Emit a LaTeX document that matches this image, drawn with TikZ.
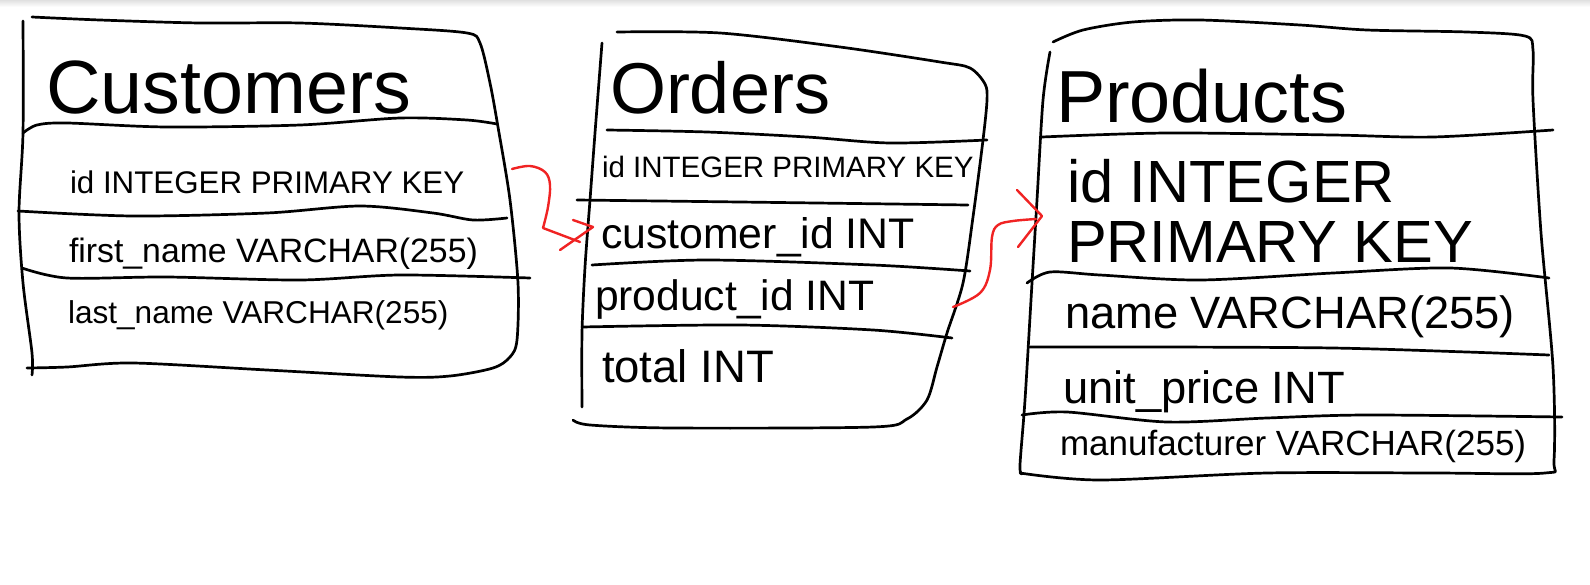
\documentclass[tikz,border=0pt]{standalone}
\usepackage{fontspec}
\setmainfont{Liberation Sans}
\definecolor{fkred}{RGB}{240,35,35}
\begin{document}
\begin{tikzpicture}[x=1pt,y=-1pt,
  sketch/.style={line width=2.7pt,line cap=round,line join=round,black},
  fk/.style={line width=2.4pt,line cap=round,line join=round,fkred},
  txt/.style={anchor=base west,inner sep=0pt,outer sep=0pt,text=black}]
\useasboundingbox (0,0) rectangle (1590,584);
\fill[white] (0,0) rectangle (1590,584);
\shade[top color=black!12,bottom color=white] (0,0) rectangle (1590,7);

% ---------- Customers ----------
\draw[sketch] plot[smooth] coordinates {(32,17) (100,20) (200,23) (300,23) (400,28) (467,33) (480,43) (490,83) (498,127) (510,200) (518,283) (517,340) (510,357) (493,368) (450,376) (400,377) (267,370) (133,363) (67,367) (27,368)};
\draw[sketch] plot[smooth] coordinates {(23,21) (23,133) (19,213) (23,283) (32,353) (32,375)};
\draw[sketch] plot[smooth] coordinates {(23,133) (37,125) (67,123) (167,127) (300,125) (400,118) (467,120) (497,124)};
\draw[sketch] plot[smooth] coordinates {(18,211) (133,216) (267,213) (360,206) (433,213) (473,220) (507,218)};
\draw[sketch] plot[smooth] coordinates {(22,268) (67,278) (167,277) (300,280) (400,275) (530,278)};
\node[txt,font=\fontsize{75.5}{80}\selectfont] (ctitle) at (46,113) {Customers};
\node[txt,font=\fontsize{31.3}{36}\selectfont] (cid) at (70,193) {id INTEGER PRIMARY KEY};
\node[txt,font=\fontsize{33.8}{38}\selectfont] (cfirst) at (69,262) {first\_name VARCHAR(255)};
\node[txt,font=\fontsize{31.6}{36}\selectfont] (clast) at (68,323) {last\_name VARCHAR(255)};

% ---------- Orders ----------
\draw[sketch] plot[smooth] coordinates {(617,32) (720,33) (840,47) (940,62) (970,68) (985,84) (987,100) (983,140) (973,217) (963,283) (947,333) (937,367) (927,400) (907,419) (873,427) (673,428) (590,425) (573,420)};
\draw[sketch] plot[smooth] coordinates {(602,43) (595,133) (590,200) (585,267) (582,333) (582,407)};
\draw[sketch] plot[smooth] coordinates {(607,130) (707,132) (807,137) (890,143) (987,140)};
\draw[sketch] plot[smooth] coordinates {(577,200) (740,202) (968,205)};
\draw[sketch] plot[smooth] coordinates {(592,265) (707,260) (873,265) (970,271)};
\draw[sketch] plot[smooth] coordinates {(582,327) (740,325) (873,330) (952,338)};
\node[txt,font=\fontsize{72}{76}\selectfont] (otitle) at (610,113) {Orders};
\node[txt,font=\fontsize{29.5}{33}\selectfont] (oid) at (602,177) {id INTEGER PRIMARY KEY};
\node[txt,font=\fontsize{42.8}{48}\selectfont] (ocust) at (601,248) {customer\_id INT};
\node[txt,font=\fontsize{42.6}{48}\selectfont] (oprod) at (595,310) {product\_id INT};
\node[txt,font=\fontsize{45.5}{50}\selectfont] (ototal) at (602,382) {total INT};

% ---------- Products ----------
\draw[sketch] plot[smooth] coordinates {(1053,42) (1083,30) (1133,22) (1200,20) (1300,25) (1367,30) (1467,32) (1525,36) (1533,50) (1533,100) (1541,233) (1553,367) (1554,460) (1545,473) (1433,473) (1267,473) (1100,480) (1020,473)};
\draw[sketch] plot[smooth] coordinates {(1050,52) (1043,100) (1037,200) (1032,283) (1025,400) (1020,465) (1022,474)};
\draw[sketch] plot[smooth] coordinates {(1042,137) (1167,133) (1333,135) (1433,137) (1553,130)};
\draw[sketch] plot[smooth] coordinates {(1027,283) (1050,272) (1100,275) (1200,280) (1333,273) (1450,268) (1549,278)};
\draw[sketch] plot[smooth] coordinates {(1030,347) (1167,347) (1333,348) (1467,352) (1549,355)};
\draw[sketch] plot[smooth] coordinates {(1022,415) (1067,412) (1167,422) (1267,418) (1367,415) (1562,417)};
\node[txt,font=\fontsize{73.8}{78}\selectfont] (ptitle) at (1056,122) {Products};
\node[txt,font=\fontsize{59.6}{60}\selectfont] (pid) at (1067,202) {id INTEGER};
\node[txt,font=\fontsize{59.6}{60}\selectfont] (pidb) at (1067,262) {PRIMARY KEY};
\node[txt,font=\fontsize{45.3}{50}\selectfont] (pname) at (1065,328) {name VARCHAR(255)};
\node[txt,font=\fontsize{45.3}{50}\selectfont] (pprice) at (1063,403) {unit\_price INT};
\node[txt,font=\fontsize{35}{40}\selectfont] (pmanu) at (1060,455) {manufacturer VARCHAR(255)};

% ---------- foreign key arrows ----------
\coordinate (fk1s) at (512,169);
\coordinate (fk1t) at (593,227);
\draw[fk] plot[smooth,tension=0.6] coordinates {(fk1s) (530,166) (545,172) (550,185) (548,207) (543,228)} -- (580,242);
\draw[fk] (573,220) -- (fk1t) -- (560,250);

\coordinate (fk2s) at (953,307);
\coordinate (fk2t) at (1042,216);
\draw[fk] plot[smooth,tension=0.6] coordinates {(fk2s) (980,293) (990,270) (992,237) (998,225) (1013,221) (1036,219)};
\draw[fk] (1017,190) -- (fk2t) -- (1018,247);
\end{tikzpicture}
\end{document}
